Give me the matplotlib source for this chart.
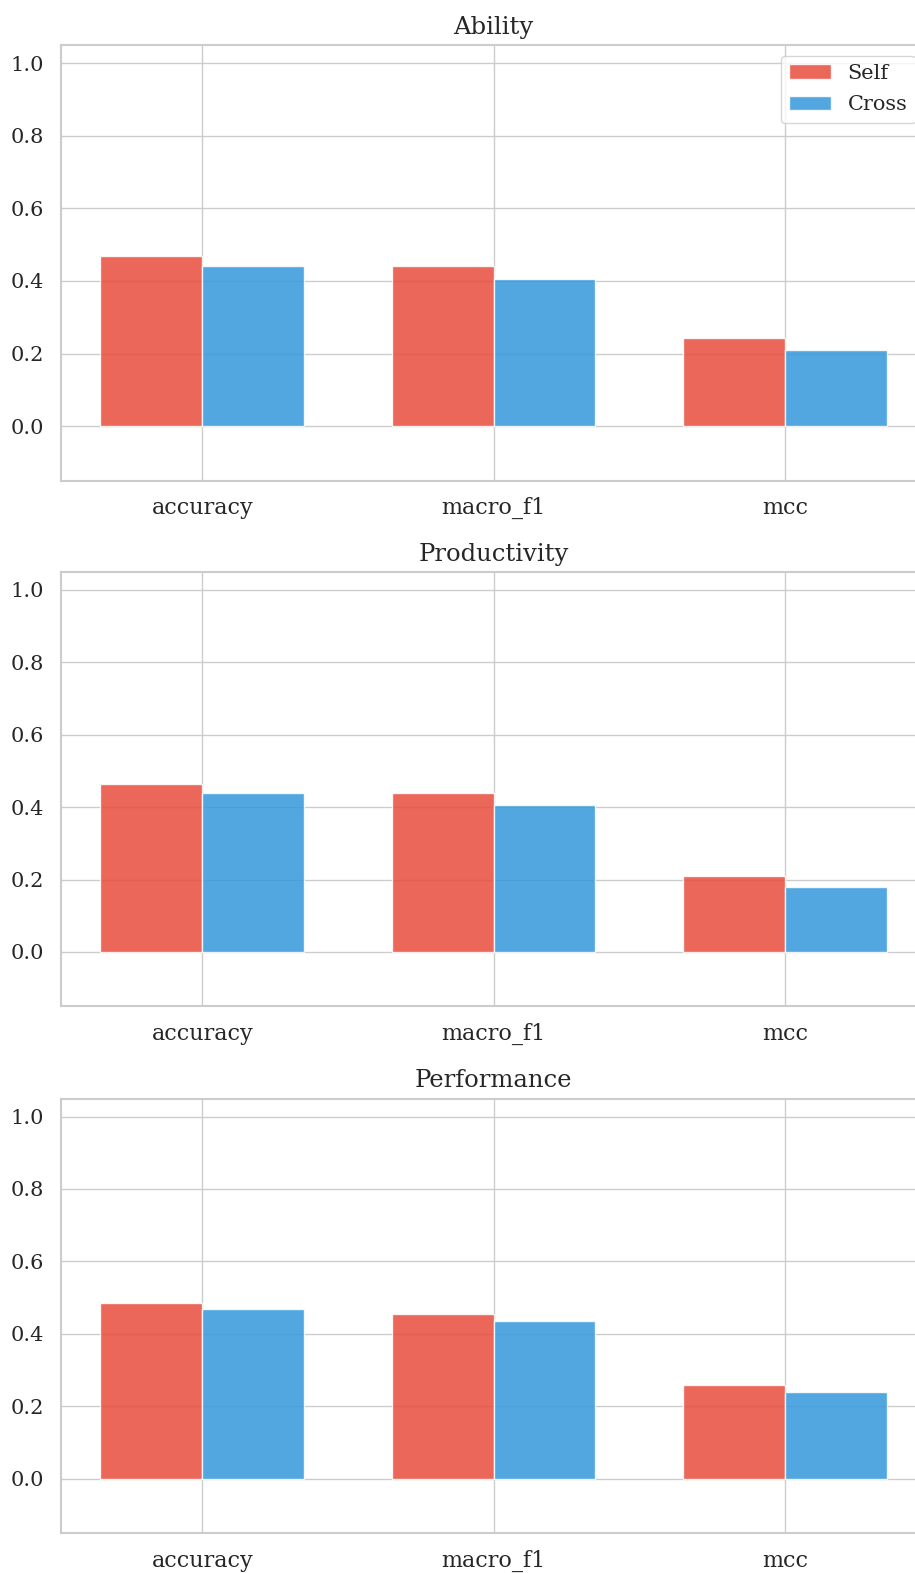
import matplotlib
matplotlib.use("Agg")
import matplotlib.pyplot as plt
import seaborn as sns
import numpy as np

metrics = ["accuracy", "macro_f1", "mcc"]
panels = ["Ability", "Productivity", "Performance"]
self_vals = {
    "Ability": [0.468, 0.440, 0.244],
    "Productivity": [0.464, 0.438, 0.211],
    "Performance": [0.486, 0.456, 0.258],
}
cross_vals = {
    "Ability": [0.442, 0.405, 0.211],
    "Productivity": [0.438, 0.407, 0.180],
    "Performance": [0.468, 0.436, 0.238],
}
series_names = ["Self", "Cross"]
colors = ["#e74c3c", "#3498db"]
yticks = [0.0, 0.2, 0.4, 0.6, 0.8, 1.0]

sns.set_theme(style="whitegrid")
plt.rcParams["font.family"] = ["DejaVu Serif"]

W, H = 915, 1573
fig = plt.figure(figsize=(W / 100, H / 100), dpi=100)

tops = [45.1, 571.8, 1098.5]
bottoms = [480.5, 1006.2, 1532.9]
left_px, right_px = 61, 926

width = 0.35
x = np.arange(len(metrics))
for i, name in enumerate(panels):
    ax = fig.add_axes([left_px / W, 1 - bottoms[i] / H,
                       (right_px - left_px) / W, (bottoms[i] - tops[i]) / H])
    ax.set_axisbelow(True)
    ax.bar(x - width / 2, self_vals[name], width, color=colors[0], alpha=0.85,
           edgecolor="white", linewidth=1.0, label=series_names[0])
    ax.bar(x + width / 2, cross_vals[name], width, color=colors[1], alpha=0.85,
           edgecolor="white", linewidth=1.0, label=series_names[1])
    ax.set_xticks(x)
    ax.set_xticklabels(metrics, fontsize=16, color="#262626")
    ax.set_yticks(yticks)
    ax.set_yticklabels([f"{v:.1f}" for v in yticks], fontsize=15, color="#262626")
    ax.set_ylim(-0.15, 1.05)
    ax.set_xlim(-0.485, 2.485)
    ax.tick_params(axis="x", pad=12, length=0)
    ax.tick_params(axis="y", pad=12.5, length=0)
    ax.set_title(name, fontsize=17.5, pad=8, color="#262626")
    for s in ax.spines.values():
        s.set_color("#cccccc")
        s.set_linewidth(1.5)
    if i == 0:
        ax.legend(loc="upper right", fontsize=15, frameon=True,
                  labelspacing=0.6)

fig.savefig("out.png", dpi=100)
